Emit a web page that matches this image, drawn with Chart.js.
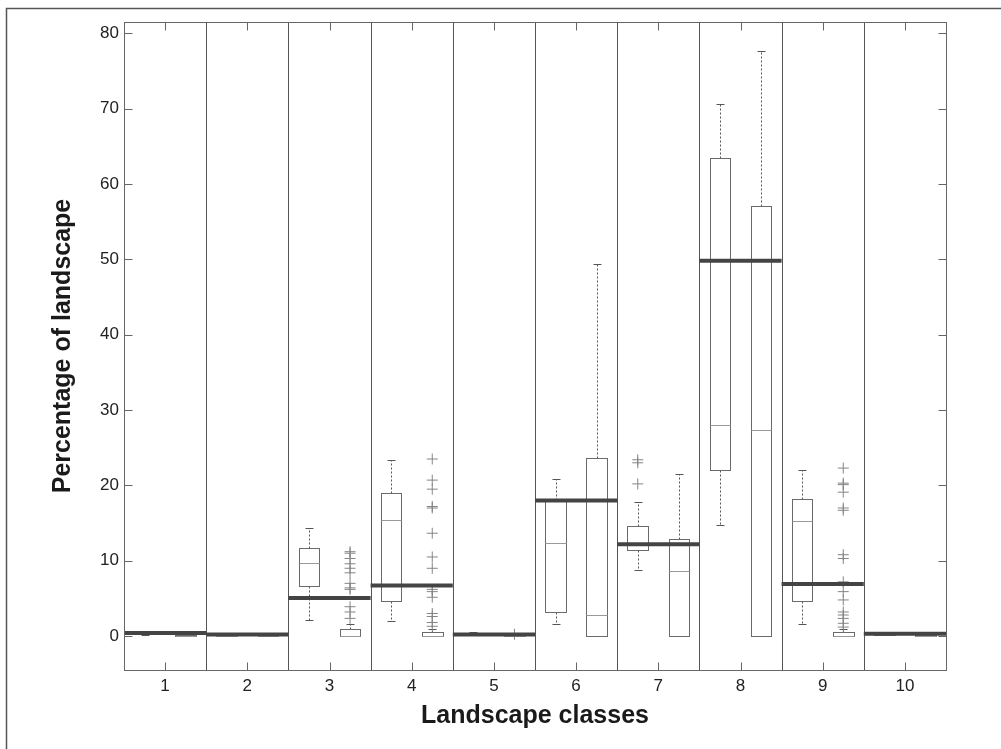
<!DOCTYPE html>
<html>
<head>
	<title>Percentage of landscape per class</title>
	<script src="https://cdn.jsdelivr.net/npm/chart.js"></script>
	<style>
		body { margin: 0; background: #fff; }
		#wrap { width: 1001px; height: 749px; }
	</style>
</head>
<body>
	<div id="wrap"><canvas id="grafico" width="1001" height="749"></canvas></div>

	<script>
		// datos de las clases
		var classes = [1, 2, 3, 4, 5, 6, 7, 8, 9, 10];
		var yTicks = [0, 10, 20, 30, 40, 50, 60, 70, 80];

		// linea gruesa de referencia por clase
		var refLine = [0.4, 0.2, 5.05, 6.7, 0.2, 18.0, 12.2, 49.8, 6.9, 0.3];

		// caja izquierda
		var leftMin    = [0.2, 0, 2.2, 2.0, 0.1, 1.6, 8.8, 14.8, 1.55, 0.1];
		var leftQ1     = [0.25, 0, 6.7, 4.65, 0.15, 3.2, 11.4, 22.0, 4.7, 0.2];
		var leftMedian = [0.4, 0, 9.75, 15.4, 0.2, 12.4, 12.3, 28.0, 15.3, 0.3];
		var leftQ3     = [0.5, 0, 11.7, 18.95, 0.3, 18.0, 14.6, 63.4, 18.25, 0.4];
		var leftMax    = [0.66, 0, 14.4, 23.4, 0.57, 20.9, 17.8, 70.6, 22.0, 0.5];

		// caja derecha
		var rightMin    = [0, 0, 0, 0, 0, 0, 0, 0, 0, 0];
		var rightQ1     = [0, 0, 0, 0, 0, 0, 0, 0, 0, 0];
		var rightMedian = [0, 0, 0, 0, 0, 2.8, 8.7, 27.3, 0, 0.05];
		var rightQ3     = [0.1, 0, 1.0, 0.6, 0, 23.65, 12.9, 57.1, 0.57, 0.1];
		var rightMax    = [0.15, 0, 1.6, 1.0, 0, 49.4, 21.5, 77.7, 0.9, 0.15];

		// valores atipicos
		var leftOutliers = [[], [], [], [], [], [], [20.2, 23.0, 23.4], [], [], []];
		var rightOutliers = [
			[], [],
			[2.35, 3.2, 3.9, 6.2, 6.4, 7.0, 8.4, 9.0, 9.6, 10.3, 11.0, 11.2],
			[1.3, 1.8, 2.6, 3.0, 5.15, 5.9, 6.2, 9.0, 10.5, 13.65, 17.0, 17.2, 19.5, 20.7, 23.5],
			[0.25], [], [], [],
			[1.2, 1.7, 2.35, 2.8, 3.2, 4.8, 5.9, 7.2, 10.3, 10.8, 16.7, 17.0, 19.1, 20.1, 20.3, 22.3],
			[]
		];

		var BOX_OFFSET = 0.25;
		var BOX_WIDTH = 0.25;
		var fuente = '"Liberation Sans", Arial, sans-serif';

		// puntos de la linea de referencia, con huecos entre clases
		var refPoints = [];
		classes.forEach(function (c, i) {
			refPoints.push({x: c - 0.5, y: refLine[i]});
			refPoints.push({x: c + 0.5, y: refLine[i]});
			refPoints.push({x: c + 0.5, y: null});
		});

		var outlierPoints = [];
		classes.forEach(function (c, i) {
			leftOutliers[i].forEach(function (v) { outlierPoints.push({x: c - BOX_OFFSET, y: v}); });
			rightOutliers[i].forEach(function (v) { outlierPoints.push({x: c + BOX_OFFSET, y: v}); });
		});

		function seg(ctx, x1, y1, x2, y2) {
			ctx.beginPath();
			ctx.moveTo(x1, y1);
			ctx.lineTo(x2, y2);
			ctx.stroke();
		}

		function crisp(v) { return Math.round(v) + 0.5; }

		function drawBox(ctx, xs, ys, pos, mn, q1, md, q3, mx) {
			var xl = crisp(xs.getPixelForValue(pos - BOX_WIDTH / 2));
			var xr = crisp(xs.getPixelForValue(pos + BOX_WIDTH / 2));
			var xc = crisp(xs.getPixelForValue(pos));
			var cap = Math.round((xr - xl) * 0.21);
			var yMin = crisp(ys.getPixelForValue(mn));
			var yQ1 = crisp(ys.getPixelForValue(q1));
			var yMd = crisp(ys.getPixelForValue(md));
			var yQ3 = crisp(ys.getPixelForValue(q3));
			var yMax = crisp(ys.getPixelForValue(mx));

			// bigotes punteados
			ctx.strokeStyle = '#555';
			ctx.lineWidth = 1;
			ctx.setLineDash([2, 2]);
			if (mx > q3) seg(ctx, xc, yQ3, xc, yMax);
			if (mn < q1) seg(ctx, xc, yQ1, xc, yMin);
			ctx.setLineDash([]);
			seg(ctx, xc - cap, yMax, xc + cap, yMax);
			seg(ctx, xc - cap, yMin, xc + cap, yMin);

			// caja
			ctx.strokeStyle = '#6a6a6a';
			ctx.strokeRect(xl, yQ3, xr - xl, yQ1 - yQ3);

			// mediana
			ctx.strokeStyle = '#999';
			seg(ctx, xl, yMd, xr, yMd);
		}

		var boxPlugin = {
			id: 'cajas',
			beforeDatasetsDraw: function (chart) {
				var ctx = chart.ctx, a = chart.chartArea;
				var xs = chart.scales.x, ys = chart.scales.y;
				ctx.save();
				// separadores entre clases
				ctx.strokeStyle = '#555';
				ctx.lineWidth = 1;
				for (var i = 0; i < classes.length - 1; i++) {
					var px = crisp(xs.getPixelForValue(classes[i] + 0.5));
					seg(ctx, px, a.top, px, a.bottom);
				}
				classes.forEach(function (c, i) {
					drawBox(ctx, xs, ys, c - BOX_OFFSET, leftMin[i], leftQ1[i], leftMedian[i], leftQ3[i], leftMax[i]);
					drawBox(ctx, xs, ys, c + BOX_OFFSET, rightMin[i], rightQ1[i], rightMedian[i], rightQ3[i], rightMax[i]);
				});
				ctx.restore();
			},
			afterDraw: function (chart) {
				var ctx = chart.ctx, a = chart.chartArea;
				var xs = chart.scales.x, ys = chart.scales.y;
				var l = crisp(a.left), r = crisp(a.right), t = crisp(a.top), b = crisp(a.bottom);
				ctx.save();
				ctx.strokeStyle = '#666';
				ctx.lineWidth = 1;
				ctx.strokeRect(l, t, r - l, b - t);
				// marcas hacia dentro
				yTicks.forEach(function (v) {
					var py = crisp(ys.getPixelForValue(v));
					seg(ctx, l, py, l + 8, py);
					seg(ctx, r, py, r - 8, py);
				});
				classes.forEach(function (c) {
					var px = crisp(xs.getPixelForValue(c));
					seg(ctx, px, t, px, t + 8);
					seg(ctx, px, b, px, b - 8);
				});
				// marco exterior de la figura
				ctx.strokeStyle = '#555';
				ctx.lineWidth = 1.5;
				ctx.beginPath();
				ctx.moveTo(6.5, 749);
				ctx.lineTo(6.5, 8.5);
				ctx.lineTo(1001, 8.5);
				ctx.stroke();
				ctx.restore();
			}
		};

		var sinRejilla = { display: true, drawOnChartArea: false, drawTicks: false, color: 'rgba(0,0,0,0)' };

		var ctx = document.getElementById('grafico').getContext('2d');
		var chart = new Chart(ctx, {
			data: {
				datasets: [{
					type: 'line',
					data: refPoints,
					borderColor: '#444',
					borderWidth: 4,
					borderCapStyle: 'butt',
					pointRadius: 0,
					spanGaps: false,
					fill: false
				}, {
					type: 'scatter',
					data: outlierPoints,
					pointStyle: 'cross',
					pointRadius: 5.5,
					pointBorderColor: '#858585',
					pointBorderWidth: 1,
					pointHoverRadius: 5.5
				}]
			},
			options: {
				responsive: false,
				animation: false,
				events: [],
				layout: { padding: { left: 0, top: 22, right: 55, bottom: 0 } },
				plugins: { legend: { display: false }, tooltip: { enabled: false } },
				scales: {
					x: {
						type: 'linear',
						min: 0.5,
						max: 10.5,
						grid: sinRejilla,
						border: { display: false },
						afterBuildTicks: function (s) { s.ticks = classes.map(function (c) { return {value: c}; }); },
						afterFit: function (s) { s.height = 79; },
						ticks: {
							padding: 6,
							color: '#222',
							font: { family: fuente, size: 17 },
							maxRotation: 0
						},
						title: {
							display: true,
							text: 'Landscape classes',
							color: '#1a1a1a',
							font: { family: fuente, size: 25, weight: 'bold' },
							padding: { top: 4, bottom: 18 }
						}
					},
					y: {
						type: 'linear',
						min: -4.5,
						max: 81.5,
						grid: sinRejilla,
						border: { display: false },
						afterBuildTicks: function (s) { s.ticks = yTicks.map(function (v) { return {value: v}; }); },
						afterFit: function (s) { s.width = 124; },
						ticks: {
							padding: 5,
							color: '#222',
							font: { family: fuente, size: 17 }
						},
						title: {
							display: true,
							text: 'Percentage of landscape',
							color: '#1a1a1a',
							font: { family: fuente, size: 25, weight: 'bold' },
							padding: { top: 48, bottom: 0 }
						}
					}
				}
			},
			plugins: [boxPlugin]
		});
	</script>
</body>
</html>
